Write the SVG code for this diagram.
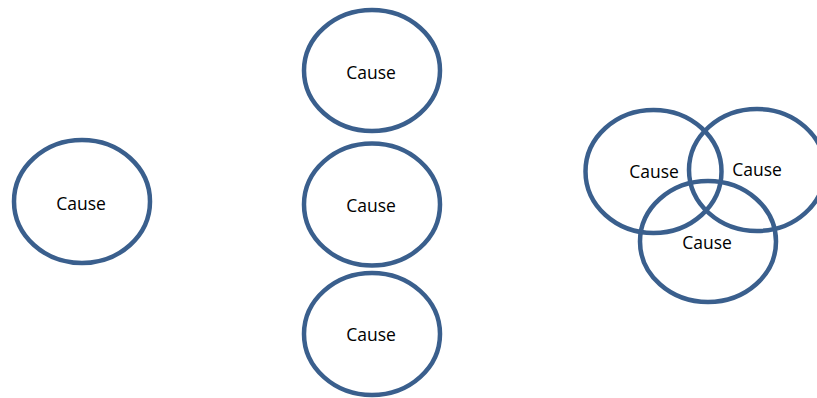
<svg xmlns="http://www.w3.org/2000/svg" width="817" height="398" viewBox="0 0 817 398">
<style>
.c{fill:none;stroke:#3A5F8D;stroke-width:4.5}
.t{font-family:"Open Sans","Liberation Sans",sans-serif;font-size:17.5px;fill:#000;text-anchor:middle}
</style>
<rect width="817" height="398" fill="#fff"/>
<g id="cause-left"><ellipse class="c" cx="82" cy="201.5" rx="68" ry="61.5"/><text class="t" x="81" y="209.5">Cause</text></g>
<g id="cause-mid-top"><ellipse class="c" cx="372" cy="70.5" rx="68" ry="60.5"/><text class="t" x="371" y="79">Cause</text></g>
<g id="cause-mid-center"><ellipse class="c" cx="372" cy="204.5" rx="68" ry="61"/><text class="t" x="371" y="212">Cause</text></g>
<g id="cause-mid-bottom"><ellipse class="c" cx="372" cy="334" rx="68" ry="61"/><text class="t" x="371" y="341">Cause</text></g>
<g id="cause-venn-left"><ellipse class="c" cx="653.5" cy="171.5" rx="68" ry="61.5"/><text class="t" x="654" y="178">Cause</text></g>
<g id="cause-venn-right"><ellipse class="c" cx="757" cy="170" rx="68" ry="61"/><text class="t" x="757" y="176">Cause</text></g>
<g id="cause-venn-bottom"><ellipse class="c" cx="708" cy="241.5" rx="68" ry="60.5"/><text class="t" x="707" y="249">Cause</text></g>
<g id="connectors"></g>
</svg>
